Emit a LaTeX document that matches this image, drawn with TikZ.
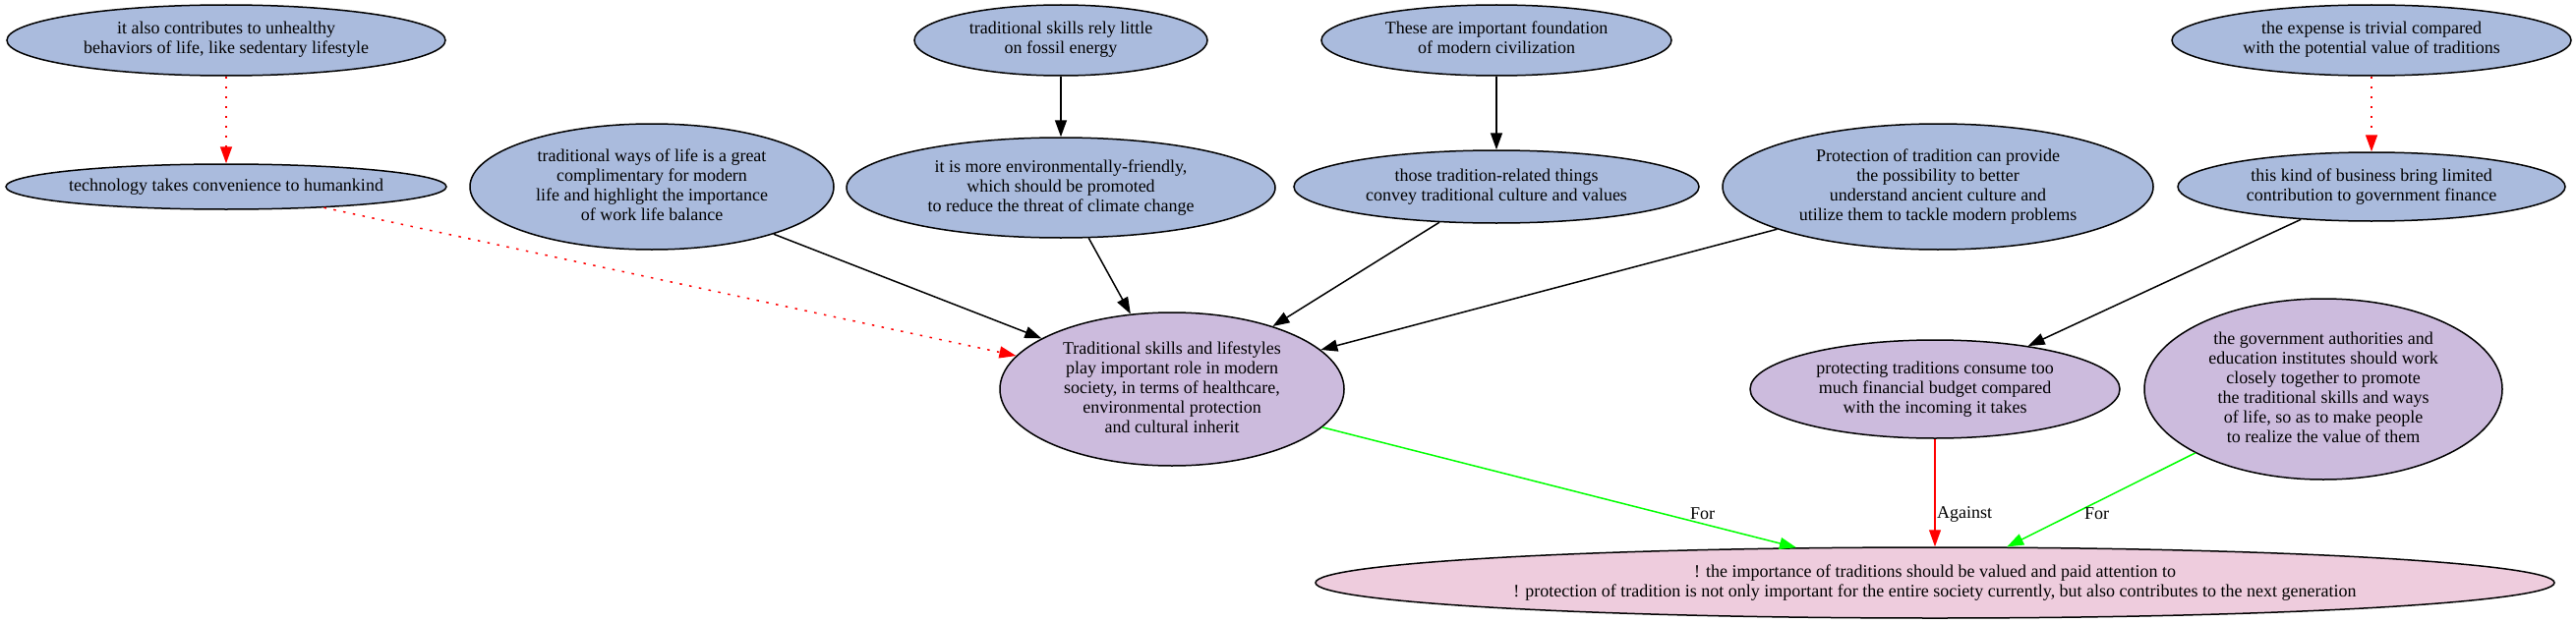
\documentclass[tikz,border=0pt]{standalone}
\usepackage{fontspec}
\setmainfont{Liberation Serif}
\usetikzlibrary{shapes.geometric,arrows.meta}
\definecolor{nblue}{HTML}{AABBDD}
\definecolor{npurple}{HTML}{CCBBDD}
\definecolor{npink}{HTML}{EECCDD}
\definecolor{egreen}{HTML}{00FF00}
\definecolor{ered}{HTML}{FF0000}
\newcommand{\tx}[1]{\makebox[0pt]{\begin{tabular}{@{}c@{}}#1\end{tabular}}}
\begin{document}
\begin{tikzpicture}[x=1pt,y=-1pt,
  el/.style={ellipse,draw=black,line width=1.5pt,inner sep=0pt,font=\fontsize{18}{20}\selectfont},
  bl/.style={el,fill=nblue},
  pu/.style={el,fill=npurple},
  pk/.style={el,fill=npink},
  tipa/.style={-{Triangle[length=17pt,width=12pt]}},
  supedge/.style={tipa,line width=1.5pt,black},
  dotedge/.style={tipa,line width=1.5pt,ered,dash pattern=on 2.5pt off 7.5pt},
  foredge/.style={tipa,line width=1.5pt,egreen},
  agedge/.style={tipa,line width=1.1pt,ered},
  elab/.style={anchor=west,inner sep=0pt,font=\fontsize{18}{20}\selectfont}
]
\useasboundingbox (0,0) rectangle (2620,634);

\node[bl,minimum width=446pt,minimum height=72pt] (A) at (230,41) {\tx{it also contributes to unhealthy\\behaviors of life, like sedentary lifestyle}};
\node[bl,minimum width=448pt,minimum height=46pt] (B) at (230,190) {\tx{technology takes convenience to humankind}};
\node[bl,minimum width=370pt,minimum height=128pt] (C) at (663,190) {\tx{traditional ways of life is a great\\complimentary for modern\\life and highlight the importance\\of work life balance}};
\node[bl,minimum width=298pt,minimum height=72pt] (D) at (1079,41) {\tx{traditional skills rely little\\on fossil energy}};
\node[bl,minimum width=436pt,minimum height=102pt] (E) at (1079,191) {\tx{it is more environmentally-friendly,\\which should be promoted\\to reduce the threat of climate change}};
\node[bl,minimum width=356pt,minimum height=72pt] (F) at (1522,41) {\tx{These are important foundation\\of modern civilization}};
\node[bl,minimum width=412pt,minimum height=74pt] (G) at (1522,190) {\tx{those tradition-related things\\convey traditional culture and values}};
\node[bl,minimum width=438pt,minimum height=128pt] (H) at (1971,190) {\tx{Protection of tradition can provide\\the possibility to better\\understand ancient culture and\\utilize them to tackle modern problems}};
\node[bl,minimum width=406pt,minimum height=72pt] (I) at (2412,41) {\tx{the expense is trivial compared\\with the potential value of traditions}};
\node[bl,minimum width=394pt,minimum height=70pt] (J) at (2412,190) {\tx{this kind of business bring limited\\contribution to government finance}};

\node[pu,minimum width=350pt,minimum height=156pt] (M) at (1192,396) {\tx{Traditional skills and lifestyles\\play important role in modern\\society, in terms of healthcare,\\environmental protection\\and cultural inherit}};
\node[pu,minimum width=376pt,minimum height=100pt] (P) at (1968,396) {\tx{protecting traditions consume too\\much financial budget compared\\with the incoming it takes}};
\node[pu,minimum width=364pt,minimum height=184pt] (Q) at (2363,396) {\tx{the government authorities and\\education institutes should work\\closely together to promote\\the traditional skills and ways\\of life, so as to make people\\to realize the value of them}};

\node[pk,minimum width=1260pt,minimum height=72pt] (R) at (1968,593) {\tx{! the importance of traditions should be valued and paid attention to\\! protection of tradition is not only important for the entire society currently, but also contributes to the next generation}};

\draw[dotedge] (A) -- (B);
\draw[dotedge] (B) -- (M);
\draw[dotedge] (I) -- (J);
\draw[supedge] (D) -- (E);
\draw[supedge] (F) -- (G);
\draw[supedge] (C) -- (M);
\draw[supedge] (E) -- (M);
\draw[supedge] (G) -- (M);
\draw[supedge] (H) -- (M);
\draw[supedge] (J) -- (P);
\draw[foredge] (M) -- (R);
\draw[agedge] (P) -- (R);
\draw[foredge] (Q) -- (R);

\node[elab] (L1) at (1719,523) {For};
\node[elab] (L2) at (1970,523) {Against};
\node[elab] (L3) at (2120,523) {For};
\end{tikzpicture}
\end{document}
